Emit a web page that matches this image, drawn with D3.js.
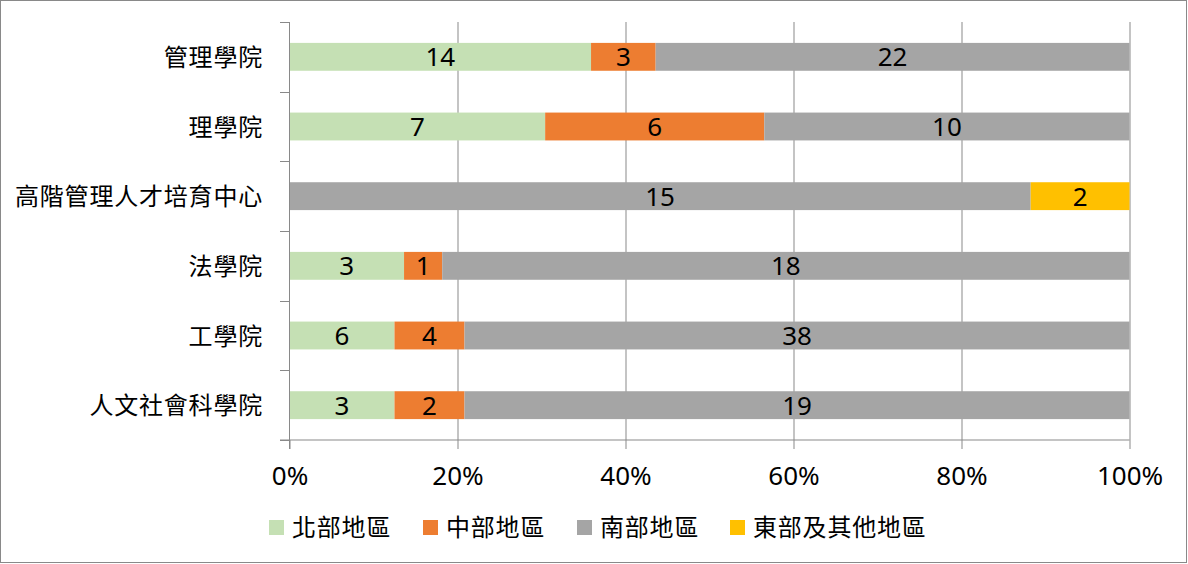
<!DOCTYPE html>
<html><head><meta charset="utf-8">
<script src="https://cdn.jsdelivr.net/npm/d3@7/dist/d3.min.js"></script>
<style>
html,body{margin:0;padding:0;background:#fff;}
svg{display:block;}
text{font-family:"Noto Sans","Noto Sans CJK TC",sans-serif;fill:#000;}
</style></head>
<body>
<svg id="chart" width="1188" height="564"></svg>
<script>
const categories = ["管理學院","理學院","高階管理人才培育中心","法學院","工學院","人文社會科學院"];
const seriesNames = ["北部地區","中部地區","南部地區","東部及其他地區"];
const north = [14,7,0,3,6,3];
const central = [3,6,0,1,4,2];
const south = [22,10,15,18,38,19];
const east = [0,0,2,0,0,0];
const xTicks = [0,0.2,0.4,0.6,0.8,1];
const colors = ["#C5E0B4","#ED7D31","#A5A5A5","#FFC000"];

const seriesValues = [north, central, south, east];
const table = categories.map((c,i)=>{
  const o = {cat:c};
  seriesNames.forEach((s,j)=>o[s]=seriesValues[j][i]);
  return o;
});

const svg = d3.select("#chart");
const axisColor = "#898989";

svg.append("rect").attr("x",0.5).attr("y",0.5).attr("width",1186).attr("height",562)
  .attr("fill","#fff").attr("stroke",axisColor).attr("stroke-width",1);

const x = d3.scaleLinear().domain([0,1]).range([289.5,1129.5]);
const y = d3.scaleBand().domain(categories).range([22,440]).paddingInner(0.6).paddingOuter(0.3);

const stack = d3.stack().keys(seriesNames).offset(d3.stackOffsetExpand);
const stacked = stack(table);

// gridlines
svg.append("g").selectAll("line").data(xTicks.slice(1)).join("line")
  .attr("x1",d=>Math.round(x(d))-0.5+0.5).attr("x2",d=>Math.round(x(d))-0.5+0.5)
  .attr("y1",22).attr("y2",440)
  .attr("stroke",axisColor).attr("stroke-width",1);

// bars
const g = svg.append("g");
stacked.forEach((layer,j)=>{
  g.append("g").selectAll("rect").data(layer).join("rect")
    .attr("x",d=>x(d[0]))
    .attr("width",d=>Math.max(0,x(d[1])-x(d[0])))
    .attr("y",d=>y(d.data.cat))
    .attr("height",y.bandwidth())
    .attr("fill",colors[j]);
});

// data labels
stacked.forEach((layer,j)=>{
  g.append("g").selectAll("text").data(layer.filter(d=>d.data[seriesNames[j]]>0)).join("text")
    .attr("x",d=>(x(d[0])+x(d[1]))/2)
    .attr("y",d=>y(d.data.cat)+y.bandwidth()/2+9.5)
    .attr("text-anchor","middle")
    .attr("font-size",26)
    .text(d=>d.data[seriesNames[j]]);
});

// x axis
const xAxis = d3.axisBottom(x).tickValues(xTicks).tickFormat(d3.format(".0%")).tickSize(9).tickSizeOuter(0);
const xg = svg.append("g").attr("transform","translate(0,440)").call(xAxis);
xg.select(".domain").remove();
xg.append("line").attr("x1",280).attr("x2",1129.5).attr("y1",0).attr("y2",0).attr("stroke",axisColor);
xg.selectAll(".tick line").attr("stroke",axisColor);
xg.selectAll(".tick text").attr("font-size",26).attr("dy",0).attr("y",45)
  .style("font-family","'Noto Sans',sans-serif").attr("fill","#000");

// y axis
const yg = svg.append("g");
yg.append("line").attr("x1",289.5).attr("x2",289.5).attr("y1",22).attr("y2",449).attr("stroke",axisColor);
const boundaries = d3.range(categories.length+1).map(i=>22 + i*(440-22)/categories.length);
yg.selectAll("line.tk").data(boundaries).join("line").attr("class","tk")
  .attr("x1",280).attr("x2",289.5).attr("y1",d=>Math.round(d)+0.5).attr("y2",d=>Math.round(d)+0.5)
  .attr("stroke",axisColor);
yg.selectAll("text").data(categories).join("text")
  .attr("x",263).attr("y",d=>y(d)+y.bandwidth()/2+9)
  .attr("text-anchor","end").attr("font-size",24).attr("letter-spacing",0.8)
  .style("font-family","'Noto Sans CJK TC',sans-serif")
  .text(d=>d);

// legend
const legendX = [269,423,577,730];
const lg = svg.append("g");
seriesNames.forEach((s,j)=>{
  lg.append("rect").attr("x",legendX[j]).attr("y",520).attr("width",15).attr("height",15).attr("fill",colors[j]);
  lg.append("text").attr("x",legendX[j]+23).attr("y",536).attr("font-size",24).attr("letter-spacing",0.8)
    .style("font-family","'Noto Sans CJK TC',sans-serif").text(s);
});
</script>
</body></html>
